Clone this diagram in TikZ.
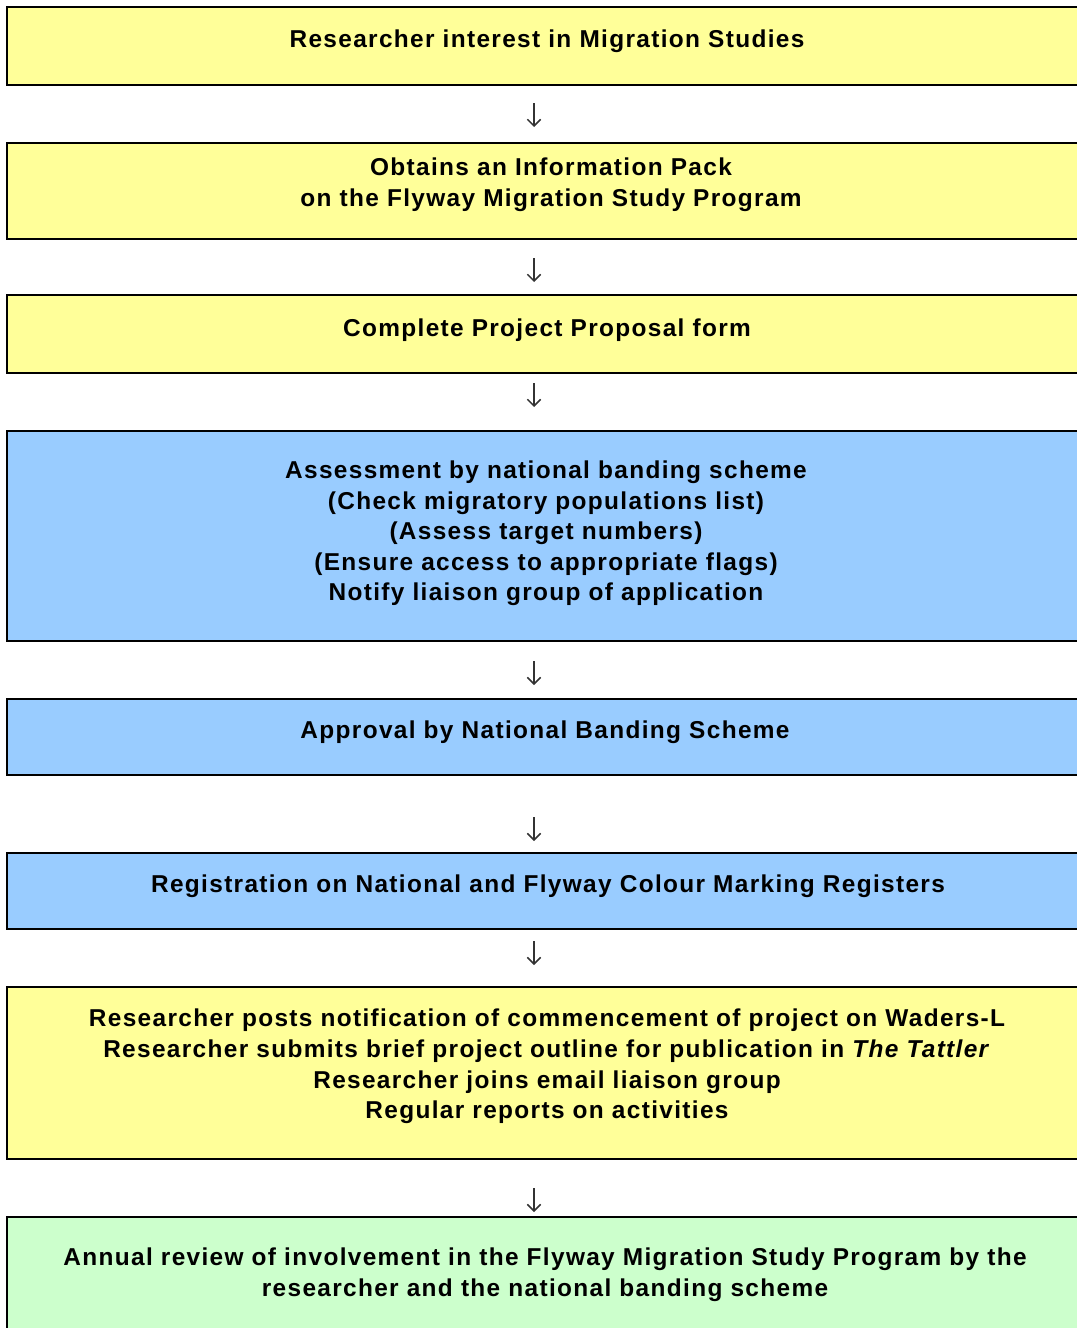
\documentclass[tikz,border=0pt]{standalone}
\usepackage{fontspec}
\setmainfont{Liberation Sans}[LetterSpace=5.5]
\usetikzlibrary{arrows.meta}
\definecolor{boxyellow}{HTML}{FFFF99}
\definecolor{boxblue}{HTML}{99CCFF}
\definecolor{boxgreen}{HTML}{CCFFCC}
\tikzset{
  stage/.style={draw=black, line width=1.5pt},
  stagetext/.style={align=center, inner sep=0pt, font=\fontsize{18.3}{22.9}\selectfont\bfseries},
  flow/.style={-{Straight Barb[length=5pt,width=10pt]}, line width=1.1pt, draw=black!80}
}
\begin{document}
\begin{tikzpicture}[x=0.75pt, y=-0.75pt]
\useasboundingbox (0,0) rectangle (1076,1328);

% stages
\filldraw[stage, fill=boxyellow] (7,7) rectangle (1090,85);
\filldraw[stage, fill=boxyellow] (7,143) rectangle (1090,239);
\filldraw[stage, fill=boxyellow] (7,295) rectangle (1090,373);
\filldraw[stage, fill=boxblue] (7,431) rectangle (1090,641);
\filldraw[stage, fill=boxblue] (7,699) rectangle (1090,775);
\filldraw[stage, fill=boxblue] (7,853) rectangle (1090,929);
\filldraw[stage, fill=boxyellow] (7,987) rectangle (1090,1159);
\filldraw[stage, fill=boxgreen] (7,1217) rectangle (1090,1345);

\node[stagetext] (t1) at (547,41.5) {Researcher interest in Migration Studies};
\node[stagetext] (t2) at (551,184.5) {Obtains an Information Pack\\on the Flyway Migration Study Program};
\node[stagetext] (t3) at (547,330.5) {Complete Project Proposal form};
\node[stagetext] (t4) at (546,533.5) {Assessment by national banding scheme\\(Check migratory populations list)\\(Assess target numbers)\\(Ensure access to appropriate flags)\\Notify liaison group of application};
\node[stagetext] (t5) at (545,732.5) {Approval by National Banding Scheme};
\node[stagetext] (t6) at (548,886.5) {Registration on National and Flyway Colour Marking Registers};
\node[stagetext] (t7) at (547,1066.5) {Researcher posts notification of commencement of project on Waders-L\\Researcher submits brief project outline for publication in \textit{The Tattler}\\Researcher joins email liaison group\\Regular reports on activities};
\node[stagetext] (t8) at (545,1274.5) {Annual review of involvement in the Flyway Migration Study Program by the\\researcher and the national banding scheme};

% arrows
\coordinate (a1) at (534,103);
\coordinate (a2) at (534,258);
\coordinate (a3) at (534,383);
\coordinate (a4) at (534,661);
\coordinate (a5) at (534,817);
\coordinate (a6) at (534,941);
\coordinate (a7) at (534,1188);
\foreach \a in {a1,a2,a3,a4,a5,a6,a7}
  \draw[flow] (\a) -- ++(0,24);
\end{tikzpicture}
\end{document}
